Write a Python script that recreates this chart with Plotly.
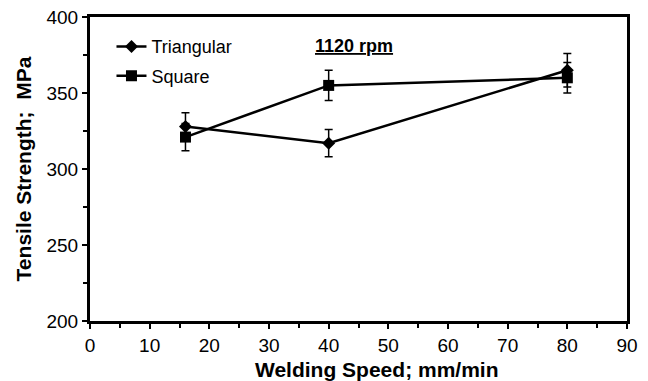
import plotly.graph_objects as go

# Welding speed (mm/min) and tensile strength (MPa) for each pin profile
speed = [16, 40, 80]
triangular = [328, 317, 365]
triangular_err = [9, 9, 11]
square = [321, 355, 360]
square_err = [9, 10, 10]

FONT = "Liberation Sans, Arial, sans-serif"

fig = go.Figure()
fig.add_trace(go.Scatter(
    x=speed, y=triangular, name="Triangular", mode="lines+markers", legendgroup="tri",
    line=dict(color="black", width=2.5),
    marker=dict(symbol="diamond", size=10, color="black"),
    error_y=dict(type="data", array=triangular_err, color="black", thickness=1.5, width=4),
))
fig.add_trace(go.Scatter(
    x=speed, y=square, name="Square", mode="lines+markers", legendgroup="sq",
    line=dict(color="black", width=2.5),
    marker=dict(symbol="square", size=11, color="black"),
    error_y=dict(type="data", array=square_err, color="black", thickness=1.5, width=4),
))

# Rotational speed label
fig.add_annotation(
    x=0.492, y=0.905, xref="paper", yref="paper", xanchor="center", yanchor="middle",
    text="<b><u>1120 rpm</u></b>", showarrow=False,
    font=dict(family=FONT, size=18, color="black"),
)

# X-axis title, set slightly right of the plot centre
fig.add_annotation(
    x=0.534, y=-0.158, xref="paper", yref="paper", xanchor="center", yanchor="middle",
    text="<b>Welding Speed; mm/min</b>", showarrow=False,
    font=dict(family=FONT, size=21, color="black"),
)

axis_common = dict(
    showgrid=False, zeroline=False, showline=True, linecolor="black", linewidth=3,
    mirror=True, ticks="outside", ticklen=5, tickwidth=2, tickcolor="black",
    tickfont=dict(family=FONT, size=19, color="black"), automargin=False,
)

fig.update_xaxes(
    range=[0, 90], dtick=10,
    minor=dict(dtick=5, ticks="outside", ticklen=4, tickwidth=2, tickcolor="black"),
    **axis_common,
)
fig.update_yaxes(
    range=[200, 400], dtick=50,
    minor=dict(dtick=25, ticks="outside", ticklen=4, tickwidth=2, tickcolor="black"),
    title=dict(text="<b>Tensile Strength;  MPa</b>", font=dict(family=FONT, size=21, color="black"), standoff=10),
    **axis_common,
)

fig.update_layout(
    width=648, height=381,
    margin=dict(l=90, r=21, t=17, b=60),
    plot_bgcolor="white", paper_bgcolor="white",
    showlegend=True,
    legend=dict(
        x=0.04, y=0.963, xanchor="left", yanchor="top",
        bgcolor="rgba(0,0,0,0)", font=dict(family=FONT, size=18, color="black"),
        tracegroupgap=3, itemwidth=30,
    ),
)

fig.write_html("out.html")
